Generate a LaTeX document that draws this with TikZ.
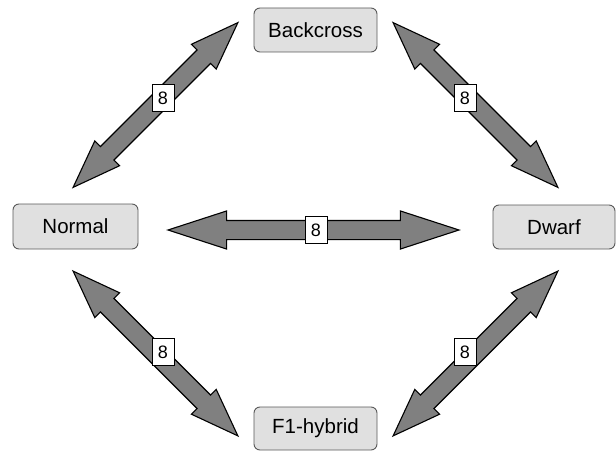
\documentclass[tikz,border=0pt]{standalone}
\usepackage{fontspec}
\setmainfont{Liberation Sans}
\usetikzlibrary{shapes.arrows}
\begin{document}
\begin{tikzpicture}[x=1pt,y=1pt,
  stage/.style={draw=black!65, line width=0.9pt, fill=black!12, rounded corners=6pt,
    minimum width=123pt, minimum height=44pt, inner sep=0pt, font=\fontsize{20.5}{24}\selectfont},
  harrow/.style={double arrow, draw=black, line width=1.1pt, fill=black!50, inner xsep=0pt, inner ysep=9pt,
    text height=0pt, text depth=0pt, double arrow head extend=9.5pt, double arrow tip angle=36},
  darrow/.style={double arrow, draw=black, line width=1.1pt, fill=black!50, inner xsep=0pt, inner ysep=9pt,
    text height=0pt, text depth=0pt, double arrow head extend=8pt, double arrow tip angle=40},
  count/.style={draw=black, line width=0.7pt, fill=white, minimum width=22pt, minimum height=27pt,
    inner sep=0pt, font=\fontsize{18}{20}\selectfont}]
\useasboundingbox (0,0) rectangle (616,451);
\node[stage] (back) at (315.5,421) {Backcross};
\node[stage, minimum width=125pt, minimum height=45pt] (norm) at (75.5,224.5) {Normal};
\node[stage, minimum width=122pt] (dwarf) at (554,224) {Dwarf};
\node[stage, minimum height=43pt] (f1) at (315.5,22.5) {F1-hybrid};

\node[harrow, minimum height=291pt] (ah) at (313.5,221) {};
\node[darrow, minimum height=233pt, rotate=45] (aul) at (155.5,346) {};
\node[darrow, minimum height=233pt, rotate=-45] (aur) at (475.5,346) {};
\node[darrow, minimum height=233pt, rotate=-45] (all) at (155.5,97.5) {};
\node[darrow, minimum height=233pt, rotate=45] (alr) at (475.5,97.5) {};

\node[count] (ch) at (316,221) {8};
\node[count] (cul) at (163,353) {8};
\node[count] (cur) at (465,353) {8};
\node[count] (cll) at (163,99) {8};
\node[count] (clr) at (465,99) {8};
\end{tikzpicture}
\end{document}
